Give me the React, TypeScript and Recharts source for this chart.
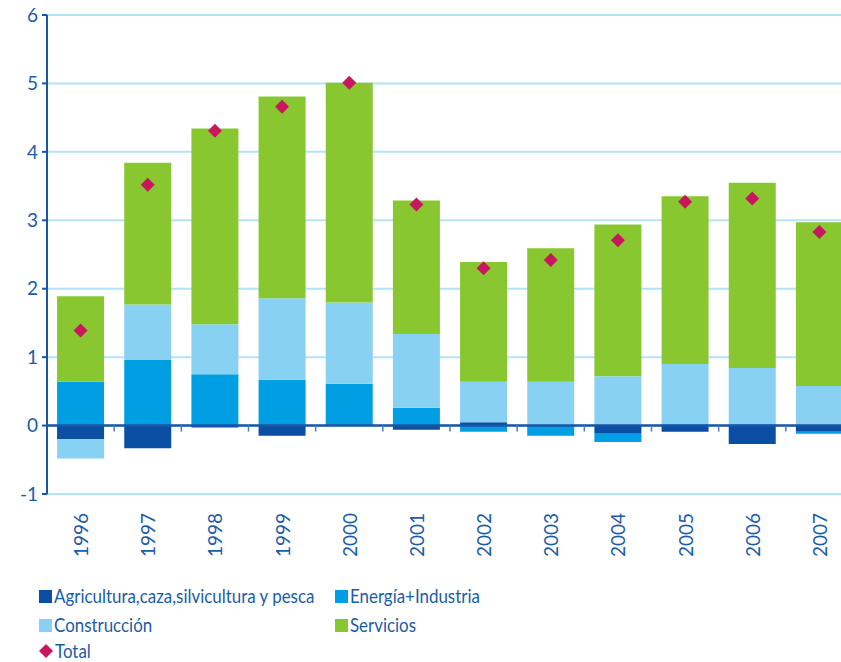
import { ComposedChart, Bar, Scatter, XAxis, YAxis, CartesianGrid, ReferenceLine } from 'recharts';

const years = ['1996', '1997', '1998', '1999', '2000', '2001', '2002', '2003', '2004', '2005', '2006', '2007'];
const agricultura = [-0.2, -0.33, -0.03, -0.15, 0.02, -0.06, 0.05, 0, -0.12, -0.09, -0.27, -0.09];
const energia = [0.64, 0.96, 0.75, 0.67, 0.59, 0.26, -0.09, -0.15, -0.12, 0.02, 0.02, -0.03];
const construccion = [-0.28, 0.81, 0.73, 1.19, 1.19, 1.08, 0.59, 0.64, 0.72, 0.88, 0.82, 0.58];
const servicios = [1.25, 2.07, 2.86, 2.95, 3.21, 1.95, 1.75, 1.95, 2.22, 2.45, 2.71, 2.39];
const total = [1.39, 3.52, 4.31, 4.66, 5.01, 3.23, 2.3, 2.42, 2.71, 3.27, 3.32, 2.83];
const yTicks = [-1, 0, 1, 2, 3, 4, 5, 6];

const data = years.map((year, i) => ({
  year,
  agricultura: agricultura[i],
  energia: energia[i],
  construccion: construccion[i],
  servicios: servicios[i],
  total: total[i],
}));

const COLORS = {
  agricultura: '#0a4fa3',
  energia: '#009fe3',
  construccion: '#89d1f2',
  servicios: '#89c730',
  total: '#c8175f',
};
const TEXT = '#1b5ca8';
const FONT = 'Lato, "Open Sans", sans-serif';

const legendItems = [
  { key: 'agricultura', label: 'Agricultura,caza,silvicultura y pesca', x: 39, y: 596 },
  { key: 'energia', label: 'Energía+Industria', x: 335, y: 596 },
  { key: 'construccion', label: 'Construcción', x: 39, y: 625 },
  { key: 'servicios', label: 'Servicios', x: 335, y: 625 },
  { key: 'total', label: 'Total', x: 39, y: 651 },
];

function YearTick(props: any) {
  const { x, y, payload } = props;
  return (
    <text
      x={x}
      y={y}
      transform={`rotate(-90, ${x}, ${y})`}
      textAnchor="end"
      dominantBaseline="central"
      fill={TEXT}
      fontSize={19}
      fontFamily={FONT}
    >
      {payload.value}
    </text>
  );
}

function Diamond(props: any) {
  const { cx, cy } = props;
  const r = 7;
  return <path d={`M${cx},${cy - r}L${cx + r},${cy}L${cx},${cy + r}L${cx - r},${cy}Z`} fill={COLORS.total} />;
}

function ZeroAxis(props: any) {
  const { x1, y1, x2 } = props;
  const step = (x2 - x1) / years.length;
  return (
    <g>
      <line x1={x1} y1={y1} x2={x2} y2={y1} stroke="#1b55a6" strokeWidth={2.5} />
      {years.slice(1).map((_, i) => (
        <line key={i} x1={x1 + step * (i + 1)} y1={y1} x2={x1 + step * (i + 1)} y2={y1 + 6} stroke="#4b7dbf" strokeWidth={1.5} />
      ))}
    </g>
  );
}

export default function App() {
  return (
    <div style={{ position: 'relative', width: 841, height: 662, overflow: 'hidden', background: '#fff' }}>
      <style>{`body { margin: 0; }`}</style>
      <ComposedChart
        width={853}
        height={570}
        data={data}
        stackOffset="sign"
        barCategoryGap="15%"
        margin={{ top: 15, right: 0, left: 0, bottom: 0 }}
      >
        <CartesianGrid vertical={false} stroke="#b5e3f6" strokeWidth={2} />
        <XAxis
          dataKey="year"
          axisLine={false}
          tickLine={false}
          tickSize={0}
          tickMargin={19}
          height={76}
          interval={0}
          tick={<YearTick />}
        />
        <YAxis
          width={47}
          domain={[-1, 6]}
          ticks={yTicks}
          allowDataOverflow
          axisLine={{ stroke: '#1b55a6', strokeWidth: 2 }}
          tickLine={{ stroke: '#1b55a6', strokeWidth: 2 }}
          tickSize={5}
          tickMargin={4}
          tick={{ fill: TEXT, fontSize: 19, fontFamily: FONT }}
        />
        <Bar dataKey="agricultura" stackId="a" fill={COLORS.agricultura} isAnimationActive={false} />
        <Bar dataKey="energia" stackId="a" fill={COLORS.energia} isAnimationActive={false} />
        <Bar dataKey="construccion" stackId="a" fill={COLORS.construccion} isAnimationActive={false} />
        <Bar dataKey="servicios" stackId="a" fill={COLORS.servicios} isAnimationActive={false} />
        <ReferenceLine y={0} shape={<ZeroAxis />} />
        <Scatter dataKey="total" shape={<Diamond />} isAnimationActive={false} />
      </ComposedChart>

      {legendItems.map((item) => (
        <div
          key={item.key}
          style={{
            position: 'absolute',
            left: item.x,
            top: item.y - 10,
            height: 20,
            lineHeight: '20px',
            display: 'flex',
            alignItems: 'center',
            fontFamily: FONT,
            fontSize: 19,
            color: TEXT,
            whiteSpace: 'nowrap',
          }}
        >
          {item.key === 'total' ? (
            <svg width={14} height={14} style={{ marginRight: 2 }}>
              <path d="M7,0L14,7L7,14L0,7Z" fill={COLORS.total} />
            </svg>
          ) : (
            <span style={{ width: 13, height: 13, background: (COLORS as any)[item.key], marginRight: 2 }} />
          )}
          <span style={{ display: 'inline-block', transform: 'scaleX(0.89)', transformOrigin: 'left center' }}>
            {item.label}
          </span>
        </div>
      ))}
    </div>
  );
}
